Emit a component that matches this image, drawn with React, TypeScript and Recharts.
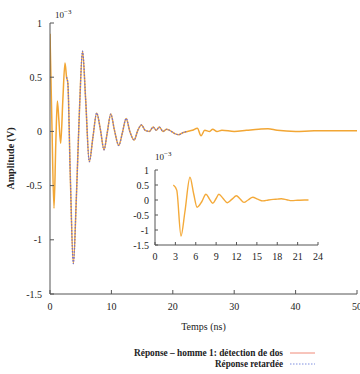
import { LineChart, Line, XAxis, YAxis } from "recharts";

// early reflection (orange only), 0..2.7 ns
const timeEarly = [0, 0.3, 0.65, 0.95, 1.2, 1.45, 1.74, 2.1, 2.44];
const ampEarly = [0.9, 0.1, -0.71, -0.1, 0.28, 0.1, -0.11, 0.3, 0.63];

// part shared by both curves
const timeMid = [2.7, 2.9, 3.3, 3.8, 4.3, 4.8, 5.3, 5.8, 6.4, 7.0, 7.6, 8.2, 8.8, 9.3, 9.9, 10.5, 11.2, 11.8, 12.4, 13.0, 13.7, 14.3, 14.9, 15.5, 16.2, 16.8, 17.3, 17.8, 18.4, 19.0, 19.5, 20.3, 21.0, 21.7, 22.4];
const ampMid = [0.5, 0.45, -0.4, -1.22, -0.6, 0.2, 0.74, 0.3, -0.28, -0.05, 0.17, 0.02, -0.17, -0.02, 0.16, 0.01, -0.13, -0.01, 0.12, 0.0, -0.08, 0.01, 0.06, 0.01, 0.0, 0.04, 0.01, 0.04, 0.0, 0.02, 0.01, -0.02, -0.03, -0.01, 0.0];

// tail (orange only)
const timeLate = [23.2, 24.0, 24.6, 25.2, 26.0, 26.5, 27.2, 28, 30, 32, 34, 35.5, 37, 40, 43, 46, 50];
const ampLate = [0.01, 0.03, -0.04, 0.01, 0.0, 0.02, 0.0, 0.01, 0.0, 0.01, 0.02, 0.025, 0.01, 0.0, 0.005, 0.005, 0.005];

// zoomed inset
const insetTime = [2.7, 3.2, 3.83, 4.4, 5.15, 5.7, 6.2, 6.9, 7.5, 8.0, 8.5, 9.0, 9.4, 10.0, 10.65, 11.3, 12.0, 12.5, 13.1, 13.7, 14.4, 15.1, 15.9, 16.7, 17.4, 18.0, 18.6, 19.4, 20.1, 21.0, 22.0, 22.6];
const insetAmp = [0.5, 0.33, -1.2, -0.4, 0.76, 0.2, -0.24, -0.05, 0.19, 0.04, -0.11, 0.05, 0.19, 0.06, -0.09, 0.02, 0.14, 0.04, -0.08, 0.0, 0.09, 0.03, -0.03, 0.0, 0.02, 0.03, 0.04, 0.01, -0.02, -0.01, 0.0, 0.0];

const mainXTicks = [0, 10, 20, 30, 40, 50];
const yTicks = [-1.5, -1, -0.5, 0, 0.5, 1];
const insetXTicks = [0, 3, 6, 9, 12, 15, 18, 21, 24];

const legendLabels = ["Réponse – homme 1: détection de dos", "Réponse retardée"];

const pts = (ts: number[], vs: number[]) => ts.map((t, i) => ({ t, a: vs[i] }));

const orangeData = [
  ...pts(timeEarly, ampEarly),
  ...pts(timeMid, ampMid),
  ...pts(timeLate, ampLate),
];
const blueData = pts(timeMid, ampMid);
const insetData = pts(insetTime, insetAmp);

const font = "Liberation Serif";
const axisCol = "#555";
const tickStyle = { fontSize: 10, fill: "#222", fontFamily: font };

export default function App() {
  return (
    <div style={{ position: "absolute", left: 0, top: 0, width: 360, height: 374, background: "#fff", fontFamily: font }}>
      <LineChart width={360} height={374} margin={{ top: 23, right: 3, bottom: 0, left: 0 }} style={{ fontFamily: font }}>
        <XAxis
          xAxisId="x"
          type="number"
          dataKey="t"
          domain={[0, 50]}
          ticks={mainXTicks}
          interval={0}
          height={80}
          tickSize={-4}
          tickMargin={13}
          stroke={axisCol}
          tick={tickStyle}
          label={{ value: "Temps (ns)", position: "insideTop", offset: 29, style: { fontSize: 10, fill: "#222", fontFamily: font } }}
          allowDataOverflow
        />
        <XAxis xAxisId="top" orientation="top" type="number" domain={[0, 50]} ticks={mainXTicks} interval={0} height={0} tick={false} tickSize={-4} stroke={axisCol} />
        <YAxis
          yAxisId="y"
          type="number"
          domain={[-1.5, 1]}
          ticks={yTicks}
          interval={0}
          width={50}
          tickSize={-4}
          tickMargin={12}
          stroke={axisCol}
          tick={tickStyle}
          label={{ value: "Amplitude (V)", angle: -90, position: "insideLeft", offset: 10, style: { textAnchor: "middle", fontSize: 10, fontWeight: "bold", fill: "#222", fontFamily: font } }}
        />
        <YAxis yAxisId="r" orientation="right" type="number" domain={[-1.5, 1]} ticks={yTicks} interval={0} width={0} tick={false} tickSize={-4} stroke={axisCol} />
        <Line data={orangeData} dataKey="a" xAxisId="x" yAxisId="y" type="monotone" stroke="#f2a634" strokeWidth={1.5} dot={false} isAnimationActive={false} />
        <Line data={blueData} dataKey="a" xAxisId="x" yAxisId="y" type="monotone" stroke="#6d6bd4" strokeWidth={1.2} strokeDasharray="1.5 1.5" dot={false} isAnimationActive={false} />
      </LineChart>

      <div style={{ position: "absolute", left: 55, top: 8, fontSize: 9, color: "#222" }}>
        10<sup style={{ fontSize: 7 }}>−3</sup>
      </div>

      <div style={{ position: "absolute", left: 120, top: 160 }}>
        <LineChart width={212} height={110} margin={{ top: 10, right: 14, bottom: 0, left: 0 }} style={{ fontFamily: font }}>
          <XAxis xAxisId="x" type="number" dataKey="t" domain={[0, 24]} ticks={insetXTicks} interval={0} height={25} tickSize={-3} tickMargin={11} stroke={axisCol} tick={tickStyle} />
          <XAxis xAxisId="top" orientation="top" type="number" domain={[0, 24]} ticks={insetXTicks} interval={0} height={0} tick={false} tickSize={-3} stroke={axisCol} />
          <YAxis yAxisId="y" type="number" domain={[-1.5, 1]} ticks={yTicks} interval={0} width={35} tickSize={-3} tickMargin={9} stroke={axisCol} tick={tickStyle} />
          <YAxis yAxisId="r" orientation="right" type="number" domain={[-1.5, 1]} ticks={yTicks} interval={0} width={0} tick={false} tickSize={-3} stroke={axisCol} />
          <Line data={insetData} dataKey="a" xAxisId="x" yAxisId="y" type="monotone" stroke="#f4aa3a" strokeWidth={1.4} dot={false} isAnimationActive={false} />
        </LineChart>
      </div>

      <div style={{ position: "absolute", left: 155, top: 150, fontSize: 9, color: "#222" }}>
        10<sup style={{ fontSize: 7 }}>−3</sup>
      </div>

      <svg width={360} height={34} style={{ position: "absolute", left: 0, top: 340 }}>
        <text x={283} y={16} textAnchor="end" fontSize={10} fontWeight="bold" fill="#222" fontFamily={font} textLength={149} lengthAdjust="spacingAndGlyphs">
          {legendLabels[0]}
        </text>
        <line x1={290} x2={315} y1={13} y2={13} stroke="#f08a78" strokeWidth={1} />
        <text x={283} y={27} textAnchor="end" fontSize={10} fontWeight="bold" fill="#222" fontFamily={font} textLength={68} lengthAdjust="spacingAndGlyphs">
          {legendLabels[1]}
        </text>
        <line x1={290} x2={315} y1={24} y2={24} stroke="#7f8fe0" strokeWidth={1} strokeDasharray="1.5 1.5" />
      </svg>
    </div>
  );
}
